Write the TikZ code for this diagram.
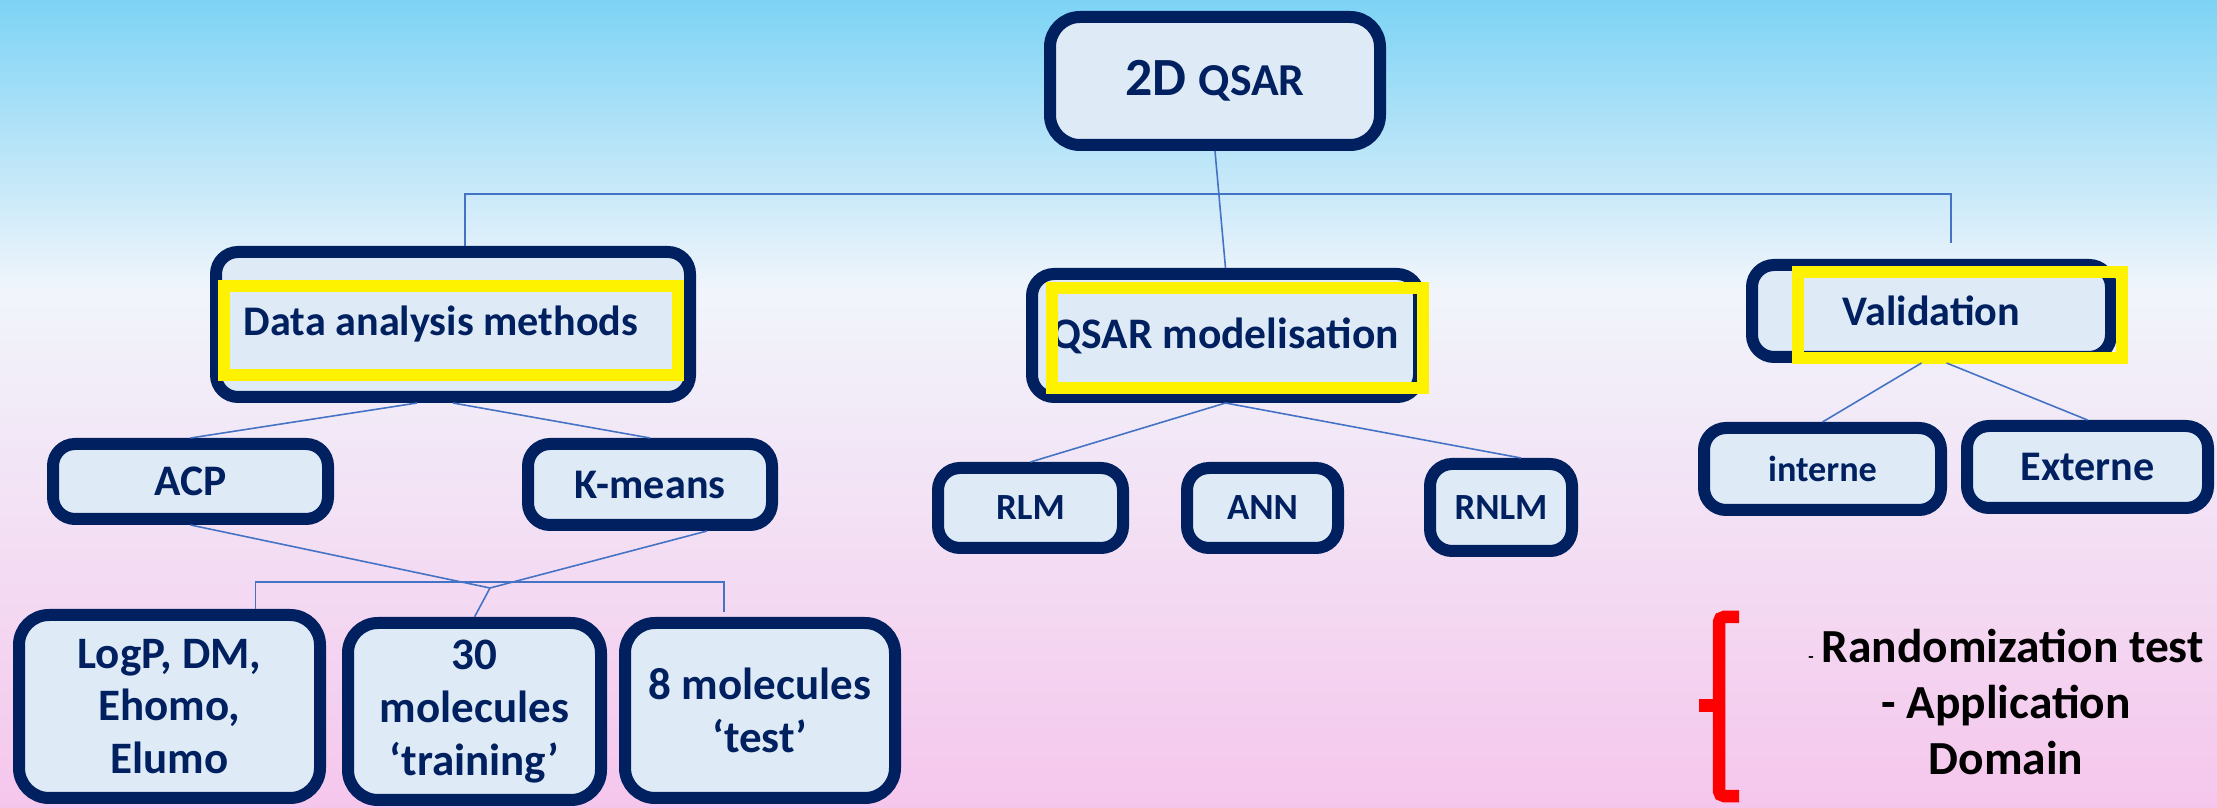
\documentclass[tikz,border=0pt]{standalone}
\usepackage{fontspec}
\setmainfont{Carlito}
\usetikzlibrary{arrows}
\definecolor{navy}{HTML}{002060}
\definecolor{boxfill}{HTML}{DEEAF6}
\definecolor{linkblue}{HTML}{4472C4}
\definecolor{skytop}{HTML}{7DD3F5}
\definecolor{haze}{HTML}{F1F5FB}
\definecolor{pinkbot}{HTML}{F5C6EC}
\newcommand{\setsz}[2]{\fontsize{#1}{#2}\selectfont}

\begin{document}
\begin{tikzpicture}[x=0.1mm,y=-0.1mm]
		\tikzstyle{qbox}=[rectangle,draw=navy,fill=boxfill,line width=1.2mm,
			rounded corners=2.2mm,inner sep=0pt,text=navy,align=center];
		\tikzstyle{top}=[qbox,rounded corners=3mm,font=\bfseries];
		\tikzstyle{mid}=[qbox,font=\bfseries\setsz{12}{14}];
		\tikzstyle{leaf}=[qbox,font=\bfseries\setsz{12}{14}];
		\tikzstyle{small}=[qbox,font=\bfseries\setsz{10.5}{12}];
		\tikzstyle{tall}=[qbox,rounded corners=3mm,font=\bfseries\setsz{12.8}{15}];
		\tikzstyle{hilite}=[draw=yellow,line width=1.2mm];
		\tikzstyle{link}=[draw=linkblue,line width=0.45pt];

		\shade[top color=skytop,bottom color=haze](0,0) rectangle (2217,290);
		\shade[top color=haze,bottom color=pinkbot](0,290) rectangle (2217,808);

		\node[top,minimum width=33mm,minimum height=12.8mm](0) at (1215,81)
			{\setsz{15.3}{18}2D \setsz{13}{16}QSAR};

		\node[mid,minimum width=47.4mm,minimum height=14.5mm](1) at (453,324.5)
			{Data analysis methods\hspace{2.4mm}};
		\node[mid,font=\bfseries\setsz{12.4}{14},minimum width=38.7mm,minimum height=12.3mm](2) at (1225.5,335.5)
			{QSAR modelisation};
		\node[mid,minimum width=35.9mm,minimum height=9.2mm](3) at (1931.5,311)
			{Validation};
		\draw[hilite](224,286) rectangle (678,375);
		\draw[hilite](1052,288) rectangle (1423,388);
		\draw[hilite](1798,272) rectangle (2122,358);

		\node[leaf,font=\bfseries\setsz{12.4}{14},minimum width=27.5mm,minimum height=7.5mm](11) at (190.5,481.5){ACP};
		\node[leaf,minimum width=24.4mm,minimum height=8.1mm](12) at (650,484.5){K-means};
		\node[tall,minimum width=30.1mm,minimum height=18.3mm](13) at (169.5,706.5)
			{LogP, DM,\\Ehomo,\\Elumo};
		\node[tall,minimum width=25.3mm,minimum height=17.7mm](14) at (474.5,711.5)
			{30\\molecules\\‘training’};
		\node[tall,minimum width=27mm,minimum height=17.5mm](15) at (760,710.5)
			{8 molecules\\‘test’};

		\node[small,minimum width=18.5mm,minimum height=8mm](21) at (1030.5,508){RLM};
		\node[small,minimum width=15.1mm,minimum height=8mm](22) at (1262.5,508){ANN};
		\node[small,minimum width=14.2mm,minimum height=8.7mm](23) at (1501,507.5){RNLM};

		\node[small,font=\bfseries\setsz{10.3}{12},minimum width=23.7mm,minimum height=8.2mm](31) at (1822.5,469){interne};
		\node[leaf,minimum width=24.1mm,minimum height=8.2mm](32) at (2087.5,467){Externe};

		\coordinate(t3) at (1951,243);
		\coordinate(j) at (490,588);
		\coordinate(t15) at (724,612);

		\draw[link](0.south)--(2.north);
		\draw[link]([xshift=1.2mm]1.north)--++(0,-52)-|(t3);
		\draw[link]([xshift=-3.6mm]1.south)--(11.north);
		\draw[link](1.south)--(12.north);
		\draw[link](11.south)--(j);
		\draw[link]([xshift=5.7mm]12.south)--(j);
		\draw[link]([xshift=8.6mm]13.north)--++(0,-27)-|(t15);
		\draw[link](j)--(14.north);
		\draw[link](2.south)--(21.north);
		\draw[link](2.south)--([xshift=2mm]23.north);
		\draw[link]([xshift=-1mm]3.south)--(31.north);
		\draw[link]([xshift=1.5mm]3.south)--(32.north);

		\draw[red,line width=1.25mm,rounded corners=0.5mm](1739,617)-|(1719,796)--(1739,796);
		\draw[red,line width=1.3mm](1719,706)--(1699,706);
		\node[align=center,font=\bfseries\setsz{13.5}{16}](4) at (2006,702)
			{{\setsz{5}{6}-}\,Randomization test\\- Application\\Domain};
	\end{tikzpicture}
\end{document}
